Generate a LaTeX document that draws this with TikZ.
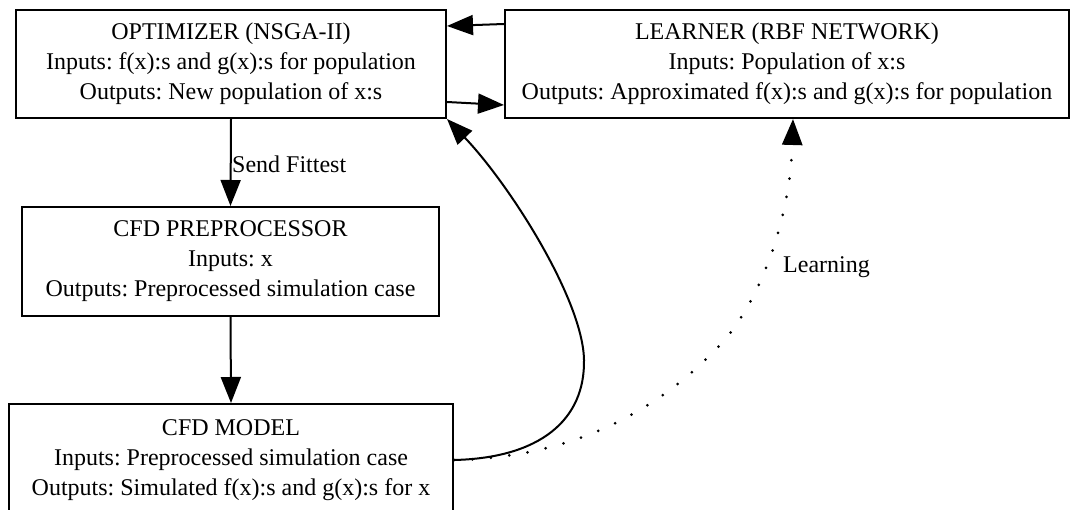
\documentclass[tikz,border=0pt]{standalone}
\usepackage{fontspec}
\setmainfont{Liberation Serif}
\usetikzlibrary{arrows.meta}
\frenchspacing

\begin{document}
\begin{tikzpicture}[x=1pt,y=-1pt,
  stage/.style={draw, line width=2pt, align=center, inner sep=0pt,
    font=\fontsize{24}{30}\selectfont},
  flow/.style={line width=2pt, -{Triangle[length=26pt,width=20pt]}},
  learnflow/.style={flow, line cap=round, dash pattern=on 0pt off 18.5pt, line width=3pt},
  tag/.style={inner sep=0pt, font=\fontsize{24}{30}\selectfont}]
\useasboundingbox (0,0) rectangle (1073,510);

% process stages
\node[stage, minimum width=430pt, minimum height=108pt] (opt) at (231,64)
  {OPTIMIZER (NSGA-II)\\Inputs: f(x):s and g(x):s for population\\Outputs: New population of x:s};
\node[stage, minimum width=564pt, minimum height=108pt] (learn) at (787,64)
  {LEARNER (RBF NETWORK)\\Inputs: Population of x:s\\Outputs: Approximated f(x):s and g(x):s for population};
\node[stage, minimum width=417pt, minimum height=109pt] (pre) at (230.5,261.5)
  {CFD PREPROCESSOR\\Inputs: x\\Outputs: Preprocessed simulation case};
\node[stage, minimum width=444pt, minimum height=112pt] (model) at (231,460)
  {CFD MODEL\\Inputs: Preprocessed simulation case\\Outputs: Simulated f(x):s and g(x):s for x};

% optimizer <-> learner
\draw[flow] ([yshift=40pt]learn.west) -- ([yshift=38pt]opt.east);
\draw[flow] ([yshift=-38pt]opt.east) -- ([yshift=-41pt]learn.west);

% main chain
\draw[flow] (opt.south) -- (pre.north);
\node[tag, anchor=base west] (fit) at (232,173) {Send Fittest};
\draw[flow] (pre.south) -- (model.north);

% simulated results back to the optimizer
\draw[flow] (model.east) .. controls (540,458) and (585,420) .. (584,360)
  .. controls (583,300) and (510,185) .. (opt.south east);

% training data for the surrogate
\draw[learnflow] (model.east) .. controls (560,458) and (650,420) .. (720,345)
  .. controls (760,302) and (790,220) .. ([xshift=6pt]learn.south);
\node[tag, anchor=base west] (lrn) at (783,273) {Learning};
\end{tikzpicture}
\end{document}
